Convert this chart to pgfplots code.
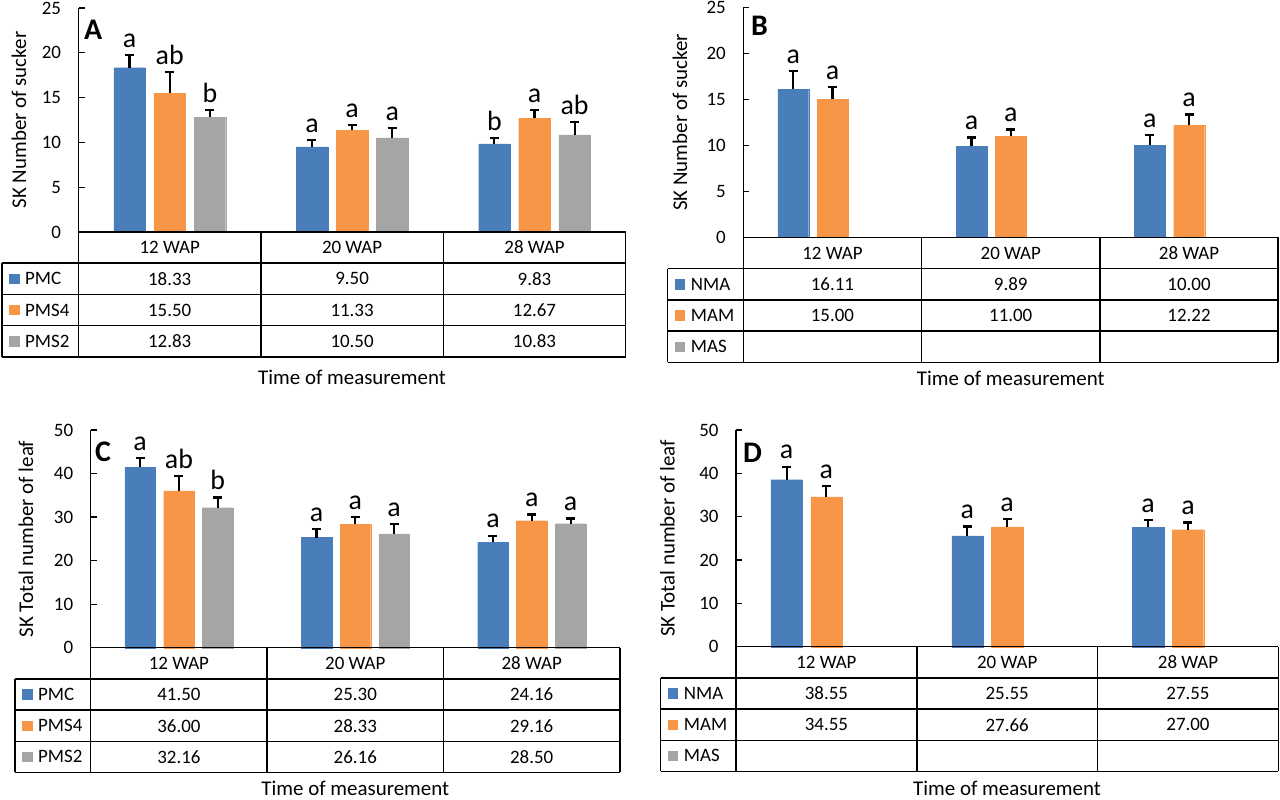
\documentclass[border=0pt]{standalone}
\usepackage{fontspec}
\setmainfont{Carlito}
\usepackage{pgfplots}
\usepackage{pgfplotstable}
\pgfplotsset{compat=1.18}

\definecolor{cBlue}{HTML}{4A7EBB}
\definecolor{cOrange}{HTML}{F79646}
\definecolor{cGray}{HTML}{A5A5A5}

\pgfkeys{/pgf/number format/assume math mode=true}

\newcommand\tfont{\fontsize{19}{23}\selectfont}
\newcommand\hfont{\fontsize{21}{25}\selectfont}
\newcommand\lfont{\fontsize{28}{33}\selectfont}
\newcommand\pfont{\fontsize{30}{36}\selectfont\bfseries}

% s = mean, e = error bar, l = letter above the bar
\pgfplotstableread{
x s1 e1 l1 s2 e2 l2 s3 e3 l3
0 18.33 1.45 a 15.50 2.34 ab 12.83 0.76 b
1 9.50 0.78 a 11.33 0.63 a 10.50 1.08 a
2 9.83 0.63 b 12.67 0.97 a 10.83 1.47 ab
}\datA
\pgfplotstableread{
x s1 e1 l1 s2 e2 l2
0 16.11 2.00 a 15.00 1.37 a
1 9.89 0.98 a 11.00 0.74 a
2 10.00 1.12 a 12.22 1.15 a
}\datB
\pgfplotstableread{
x s1 e1 l1 s2 e2 l2 s3 e3 l3
0 41.50 2.07 a 36.00 3.36 ab 32.16 2.33 b
1 25.30 2.02 a 28.33 1.74 a 26.16 2.31 a
2 24.16 1.56 a 29.16 1.44 a 28.50 1.18 a
}\datC
\pgfplotstableread{
x s1 e1 l1 s2 e2 l2
0 38.55 3.00 a 34.55 2.55 a
1 25.55 2.17 a 27.66 1.83 a
2 27.55 1.71 a 27.00 1.64 a
}\datD

\pgfplotsset{
  panel/.style={
    scale only axis, clip=false, anchor=south west,
    axis x line=none, axis y line*=left,
    axis line style={line width=1.5bp, black},
    xmin=-0.5, xmax=2.5, ymin=0, enlargelimits=false,
    ybar, bar width=0.173, xtick=\empty,
    tick align=inside, major tick length=6bp,
    tick style={line width=1.2bp, black},
    yticklabel style={font=\tfont, xshift=-14bp},
  },
  sbar/.style={fill=#1, draw=#1, line width=0.1bp,
    error bars/y dir=plus, error bars/y explicit,
    error bars/error mark=-,
    error bars/error bar style={black, line width=2.2bp},
    error bars/error mark options={rotate=90, black, line width=2.2bp, mark size=4.5bp}},
  letters/.style={draw=none, fill=none, bar shift=#1, forget plot,
    nodes near coords, point meta=explicit symbolic,
    every node near coord/.append style={font=\lfont, text=black, yshift=4bp}},
}

% one bar series: mean + error bar, letter above
% #1 data, #2 series number, #3 colour, #4 bar shift
\newcommand\series[4]{%
  \addplot[sbar=#3, bar shift=#4] table[x=x, y=s#2, y error=e#2] {#1};
  \addplot[letters=#4] table[x=x, y expr=\thisrow{s#2}+\thisrow{e#2}, meta=l#2] {#1};
}

% #1 table left, #2 axis x, #3 column width, #4 zero y, #5 data,
% #6 row names, #7 filled rows
\newcommand\paneltable[7]{%
  \pgfmathsetmacro\xr{#2+3*#3}
  \begin{scope}[line width=1.5bp]
    \draw (#2,#4) -- (\xr,#4);
    \foreach \k in {1,...,4} \draw (#1,#4-\k*31.2) -- (\xr,#4-\k*31.2);
    \draw (#1,#4-31.2) -- (#1,#4-124.8);
    \foreach \c in {0,...,3} \draw (#2+\c*#3,#4) -- (#2+\c*#3,#4-124.8);
  \end{scope}
  \foreach \c/\t in {0/12 WAP,1/20 WAP,2/28 WAP}
    \node[font=\tfont] at (#2+\c*#3+0.5*#3,#4-15.6) {\t};
  \foreach \r/\n/\col in {#6} {
    \fill[\col] (#1+7,#4-31.2*\r-21) rectangle ++(10.5,10.5);
    \node[font=\tfont, anchor=west, inner sep=0pt] at (#1+23,#4-31.2*\r-15.6) {\n};
  }
  \foreach \r in {1,...,#7} {
    \foreach \c in {0,1,2} {
      \pgfplotstablegetelem{\c}{s\r}\of{#5}\let\v\pgfplotsretval
      \node[font=\tfont] at (#2+\c*#3+0.5*#3,#4-31.2*\r-15.6)
        {\pgfmathprintnumber[fixed,fixed zerofill,precision=2]{\v}};
    }
  }
}

\begin{document}
\begin{tikzpicture}[x=1bp,y=1bp]
\useasboundingbox (0,0) rectangle (1280,800);

% ---------- A ----------
\begin{axis}[panel, at={(78.5bp,568bp)}, width=547.2bp, height=224bp,
  ymax=25, ytick={0,5,...,25}]
  \series{\datA}{1}{cBlue}{-0.22}
  \series{\datA}{2}{cOrange}{0}
  \series{\datA}{3}{cGray}{0.22}
\end{axis}
\paneltable{2}{78.5}{182.4}{568}{\datA}{1/PMC/cBlue,2/PMS4/cOrange,3/PMS2/cGray}{3}
\node[font=\hfont, rotate=90] at (19,680) {SK Number of sucker};
\node[font=\hfont, anchor=base] at (352,415) {Time of measurement};
\node[font=\pfont, anchor=west, inner sep=0pt] at (84,770) {A};

% ---------- B ----------
\begin{axis}[panel, at={(743.3bp,562.5bp)}, width=535bp, height=230bp,
  ymax=25, ytick={0,5,...,25}]
  \series{\datB}{1}{cBlue}{-0.22}
  \series{\datB}{2}{cOrange}{0}
\end{axis}
\paneltable{667.7}{743.3}{178.3}{562.5}{\datB}{1/NMA/cBlue,2/MAM/cOrange,3/MAS/cGray}{2}
\node[font=\hfont, rotate=90] at (680,677.5) {SK Number of sucker};
\node[font=\hfont, anchor=base] at (1010.8,414) {Time of measurement};
\node[font=\pfont, anchor=west, inner sep=0pt] at (751,774) {B};

% ---------- C ----------
\begin{axis}[panel, at={(90.7bp,152.3bp)}, width=529.3bp, height=217.7bp,
  ymax=50, ytick={0,10,...,50}]
  \series{\datC}{1}{cBlue}{-0.22}
  \series{\datC}{2}{cOrange}{0}
  \series{\datC}{3}{cGray}{0.22}
\end{axis}
\paneltable{15}{90.7}{176.4}{152.3}{\datC}{1/PMC/cBlue,2/PMS4/cOrange,3/PMS2/cGray}{3}
\node[font=\hfont, rotate=90] at (26,261) {SK Total number of leaf};
\node[font=\hfont, anchor=south, inner sep=1bp] at (355.3,3) {Time of measurement};
\node[font=\pfont, anchor=west, inner sep=0pt] at (95,348.3) {C};

% ---------- D ----------
\begin{axis}[panel, at={(736bp,153.3bp)}, width=542.3bp, height=216.7bp,
  ymax=50, ytick={0,10,...,50}]
  \series{\datD}{1}{cBlue}{-0.22}
  \series{\datD}{2}{cOrange}{0}
\end{axis}
\paneltable{660.7}{736}{180.8}{153.3}{\datD}{1/NMA/cBlue,2/MAM/cOrange,3/MAS/cGray}{2}
\node[font=\hfont, rotate=90] at (667.5,261.6) {SK Total number of leaf};
\node[font=\hfont, anchor=south, inner sep=1bp] at (1007,3) {Time of measurement};
\node[font=\pfont, anchor=west, inner sep=0pt] at (743,347) {D};
\end{tikzpicture}
\end{document}
